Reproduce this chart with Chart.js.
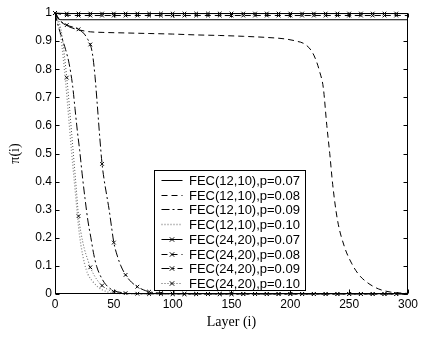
<!DOCTYPE html>
<html><head><meta charset="utf-8">
<script src="https://cdn.jsdelivr.net/npm/chart.js@4/dist/chart.umd.min.js"></script>
<style>html,body{margin:0;padding:0;background:#fff;}canvas{display:block}</style>
</head><body>
<canvas id="c" width="421" height="338"></canvas>
<script>
// ---- data ----
const seriesLabels = [
  'FEC(12,10),p=0.07','FEC(12,10),p=0.08','FEC(12,10),p=0.09','FEC(12,10),p=0.10',
  'FEC(24,20),p=0.07','FEC(24,20),p=0.08','FEC(24,20),p=0.09','FEC(24,20),p=0.10'
];
const xTicks = [0,50,100,150,200,250,300];
const xTickLabels = ['0','50','100','150','200','250','300'];
const yTicks = [0,0.1,0.2,0.3,0.4,0.5,0.6,0.7,0.8,0.9,1];
const yTickLabels = ['0','0.1','0.2','0.3','0.4','0.5','0.6','0.7','0.8','0.9','1'];

const s1x = [0,1,2,3,4,6,300];
const s1y = [1,0.99,0.983,0.979,0.977,0.976,0.976];

const s2x = [0,3,6,10,15,20,25,30,40,60,80,100,120,140,160,180,195,205,212,218,222,225,228,231,233.5,236,240,246,252,258,265,275,285,300];
const s2y = [1,0.98,0.966,0.955,0.946,0.94,0.936,0.933,0.931,0.929,0.927,0.925,0.922,0.92,0.917,0.913,0.908,0.9,0.89,0.865,0.83,0.79,0.735,0.60,0.50,0.39,0.265,0.168,0.11,0.07,0.042,0.018,0.007,0.002];

const s3x = [0,3,6,9,12,15,17,19,21,23,25.5,28,30.5,33,35.5,38,42,46,50,60,70,300];
const s3y = [1,0.95,0.91,0.87,0.82,0.74,0.66,0.58,0.51,0.43,0.34,0.26,0.20,0.14,0.097,0.07,0.04,0.022,0.012,0.003,0.001,0];

const s4x = [0,2,4,6,8,10,12,14,16,18,20,22,25,28,32,36,40,45,50,60,300];
const s4y = [1,0.98,0.94,0.88,0.80,0.71,0.61,0.51,0.42,0.33,0.24,0.175,0.11,0.07,0.045,0.027,0.015,0.007,0.003,0.001,0];

const s5x = [0,10,20,30,40,50,60,70,80,90,100,110,120,130,140,150,160,170,180,190,200,210,220,230,240,250,260,270,280,290,300];
const s5y = [1,0.998,0.998,0.998,0.998,0.998,0.998,0.998,0.998,0.998,0.998,0.998,0.998,0.998,0.998,0.998,0.998,0.998,0.998,0.998,0.998,0.998,0.998,0.998,0.998,0.998,0.998,0.998,0.998,0.998,0.998];

const s6x = [0,10,20,30,40,50,60,70,80,90,100,110,120,130,140,150,160,170,180,190,200,210,220,230,240,250,260,270,280,290,300];
const s6y = [1,0.992,0.991,0.991,0.991,0.991,0.991,0.991,0.991,0.991,0.991,0.991,0.991,0.991,0.991,0.991,0.991,0.991,0.991,0.991,0.991,0.991,0.991,0.991,0.991,0.991,0.991,0.991,0.991,0.991,0.991];

const s7x = [0,5,10,15,20,25,28,30,32,34,36,38,40,42,44,46,48,50,53,56,60,65,70,75,80,90,100,110,120,130,140,150,160,170,180,190,200,210,220,230,240,250,260,270,280,290,300];
const s7y = [1,0.97,0.957,0.95,0.942,0.925,0.905,0.888,0.85,0.775,0.67,0.56,0.463,0.40,0.35,0.30,0.24,0.183,0.135,0.10,0.068,0.042,0.026,0.015,0.008,0.003,0.001,0,0,0,0,0,0,0,0,0,0,0,0,0,0,0,0,0,0,0,0];

const s8x = [0,2,4,6,8,10,12,14,16,18,20,22,25,28,30,35,40,45,50,60,70,80,90,100,110,120,130,140,150,160,170,180,190,200,210,220,230,240,250,260,270,280,290,300];
const s8y = [1,0.99,0.96,0.92,0.85,0.77,0.68,0.58,0.48,0.38,0.277,0.22,0.16,0.12,0.095,0.055,0.03,0.016,0.008,0.003,0.001,0,0,0,0,0,0,0,0,0,0,0,0,0,0,0,0,0,0,0,0,0,0,0];

// ---- build ----
const xs = [s1x,s2x,s3x,s4x,s5x,s6x,s7x,s8x];
const ys = [s1y,s2y,s3y,s4y,s5y,s6y,s7y,s8y];
const dashes = [[],[6,4],[8,3,2,3],[1,2],[],[6,4],[8,3,2,3],[1,2]];
const colors = ['#000','#000','#000','#888','#000','#000','#000','#555'];
const marked = [false,false,false,false,true,true,true,true];

const datasets = xs.map((xa,i)=>({
  label: seriesLabels[i],
  data: xa.map((v,j)=>({x:v,y:ys[i][j]})),
  borderColor: colors[i],
  borderWidth: i===3 ? 1.3 : 1,
  borderDash: dashes[i],
  cubicInterpolationMode: 'monotone',
  fill: false,
  pointStyle: 'crossRot',
  pointBorderColor: '#000',
  pointBorderWidth: 1,
  pointRadius: ctx => (marked[i] && ctx.raw && ctx.raw.x % 10 === 0 && ctx.raw.x < 300) ? 2.6 : 0,
  pointHoverRadius: 0,
  clip: 3
}));

const font = '"Liberation Sans", Arial, Helvetica, sans-serif';
const serif = '"Liberation Serif", "Times New Roman", serif';

const framePlugin = {
  id: 'frame',
  afterDatasetsDraw(chart){
    const {ctx, chartArea:a, scales:{x,y}} = chart;
    ctx.save();
    ctx.setLineDash([]);
    ctx.strokeStyle = '#000'; ctx.lineWidth = 1;
    const L = Math.round(a.left)+0.5, R = Math.round(a.right)-0.5, T = Math.round(a.top)+0.5, B = Math.round(a.bottom)-0.5;
    ctx.strokeRect(L, T, R-L, B-T);
    ctx.beginPath();
    xTicks.forEach(v=>{
      const px = Math.round(x.getPixelForValue(v))+0.5;
      ctx.moveTo(px,B); ctx.lineTo(px,B-4);
      ctx.moveTo(px,T); ctx.lineTo(px,T+4);
    });
    yTicks.forEach(v=>{
      const py = Math.round(y.getPixelForValue(v))+0.5;
      ctx.moveTo(L,py); ctx.lineTo(L+4,py);
      ctx.moveTo(R,py); ctx.lineTo(R-4,py);
    });
    ctx.stroke();

    // legend box inside plot
    const lx = Math.round(a.left + (a.right-a.left)*0.281)+0.5;
    const rx = Math.round(a.left + (a.right-a.left)*0.708)+0.5;
    const ty = Math.round(a.top + (a.bottom-a.top)*0.559)+0.5;
    const by = Math.round(a.top + (a.bottom-a.top)*0.986)+0.5;
    ctx.fillStyle = '#fff';
    ctx.fillRect(lx,ty,rx-lx,by-ty);
    ctx.strokeStyle = '#000';
    ctx.strokeRect(lx,ty,rx-lx,by-ty);
    const step = (by-ty-17)/7;
    chart.data.datasets.forEach((ds,i)=>{
      const yy = Math.round(ty + 9.5 + i*step)+0.5;
      ctx.save();
      ctx.strokeStyle = ds.borderColor; ctx.lineWidth = ds.borderWidth;
      ctx.setLineDash(ds.borderDash);
      ctx.beginPath(); ctx.moveTo(lx+7,yy); ctx.lineTo(lx+28,yy); ctx.stroke();
      ctx.restore();
      if (marked[i]) {
        const cx = lx+17.5, r = 2.2;
        ctx.beginPath();
        ctx.moveTo(cx-r,yy-r); ctx.lineTo(cx+r,yy+r);
        ctx.moveTo(cx-r,yy+r); ctx.lineTo(cx+r,yy-r);
        ctx.strokeStyle = '#000'; ctx.lineWidth = 1; ctx.stroke();
      }
      ctx.fillStyle = '#000';
      ctx.font = '13px ' + font;
      ctx.textBaseline = 'middle';
      ctx.textAlign = 'left';
      ctx.fillText(ds.label, lx+34.5, yy+0.5);
    });
    ctx.restore();
  }
};

new Chart(document.getElementById('c'), {
  type: 'line',
  data: { datasets },
  options: {
    responsive: false,
    animation: false,
    devicePixelRatio: 1,
    layout: { padding: { top: 13, right: 10, left: 0, bottom: 0 } },
    plugins: { legend: { display: false }, tooltip: { enabled: false } },
    scales: {
      x: {
        type: 'linear', min: 0, max: 300,
        grid: { display: false, drawTicks: false },
        border: { display: false },
        afterBuildTicks: s => { s.ticks = xTicks.map(v=>({value:v})); },
        afterFit: s => { s.height = 44; },
        ticks: { padding: 3, color: '#000', font: { family: font, size: 12 },
          callback: (v,i) => xTickLabels[i] },
        title: { display: true, text: 'Layer (i)', color: '#000',
          font: { family: serif, size: 14 }, padding: { top: 2, bottom: 7 } }
      },
      y: {
        type: 'linear', min: 0, max: 1,
        grid: { display: false, drawTicks: false },
        border: { display: false },
        afterBuildTicks: s => { s.ticks = yTicks.map(v=>({value:v})); },
        afterFit: s => { s.width = 55; },
        ticks: { padding: 3, color: '#000', font: { family: font, size: 12 },
          callback: (v,i) => yTickLabels[i] },
        title: { display: true, text: 'π(i)', color: '#000',
          font: { family: serif, size: 14 }, padding: { top: 7, bottom: 0 } }
      }
    }
  },
  plugins: [framePlugin]
});
</script>
</body></html>
